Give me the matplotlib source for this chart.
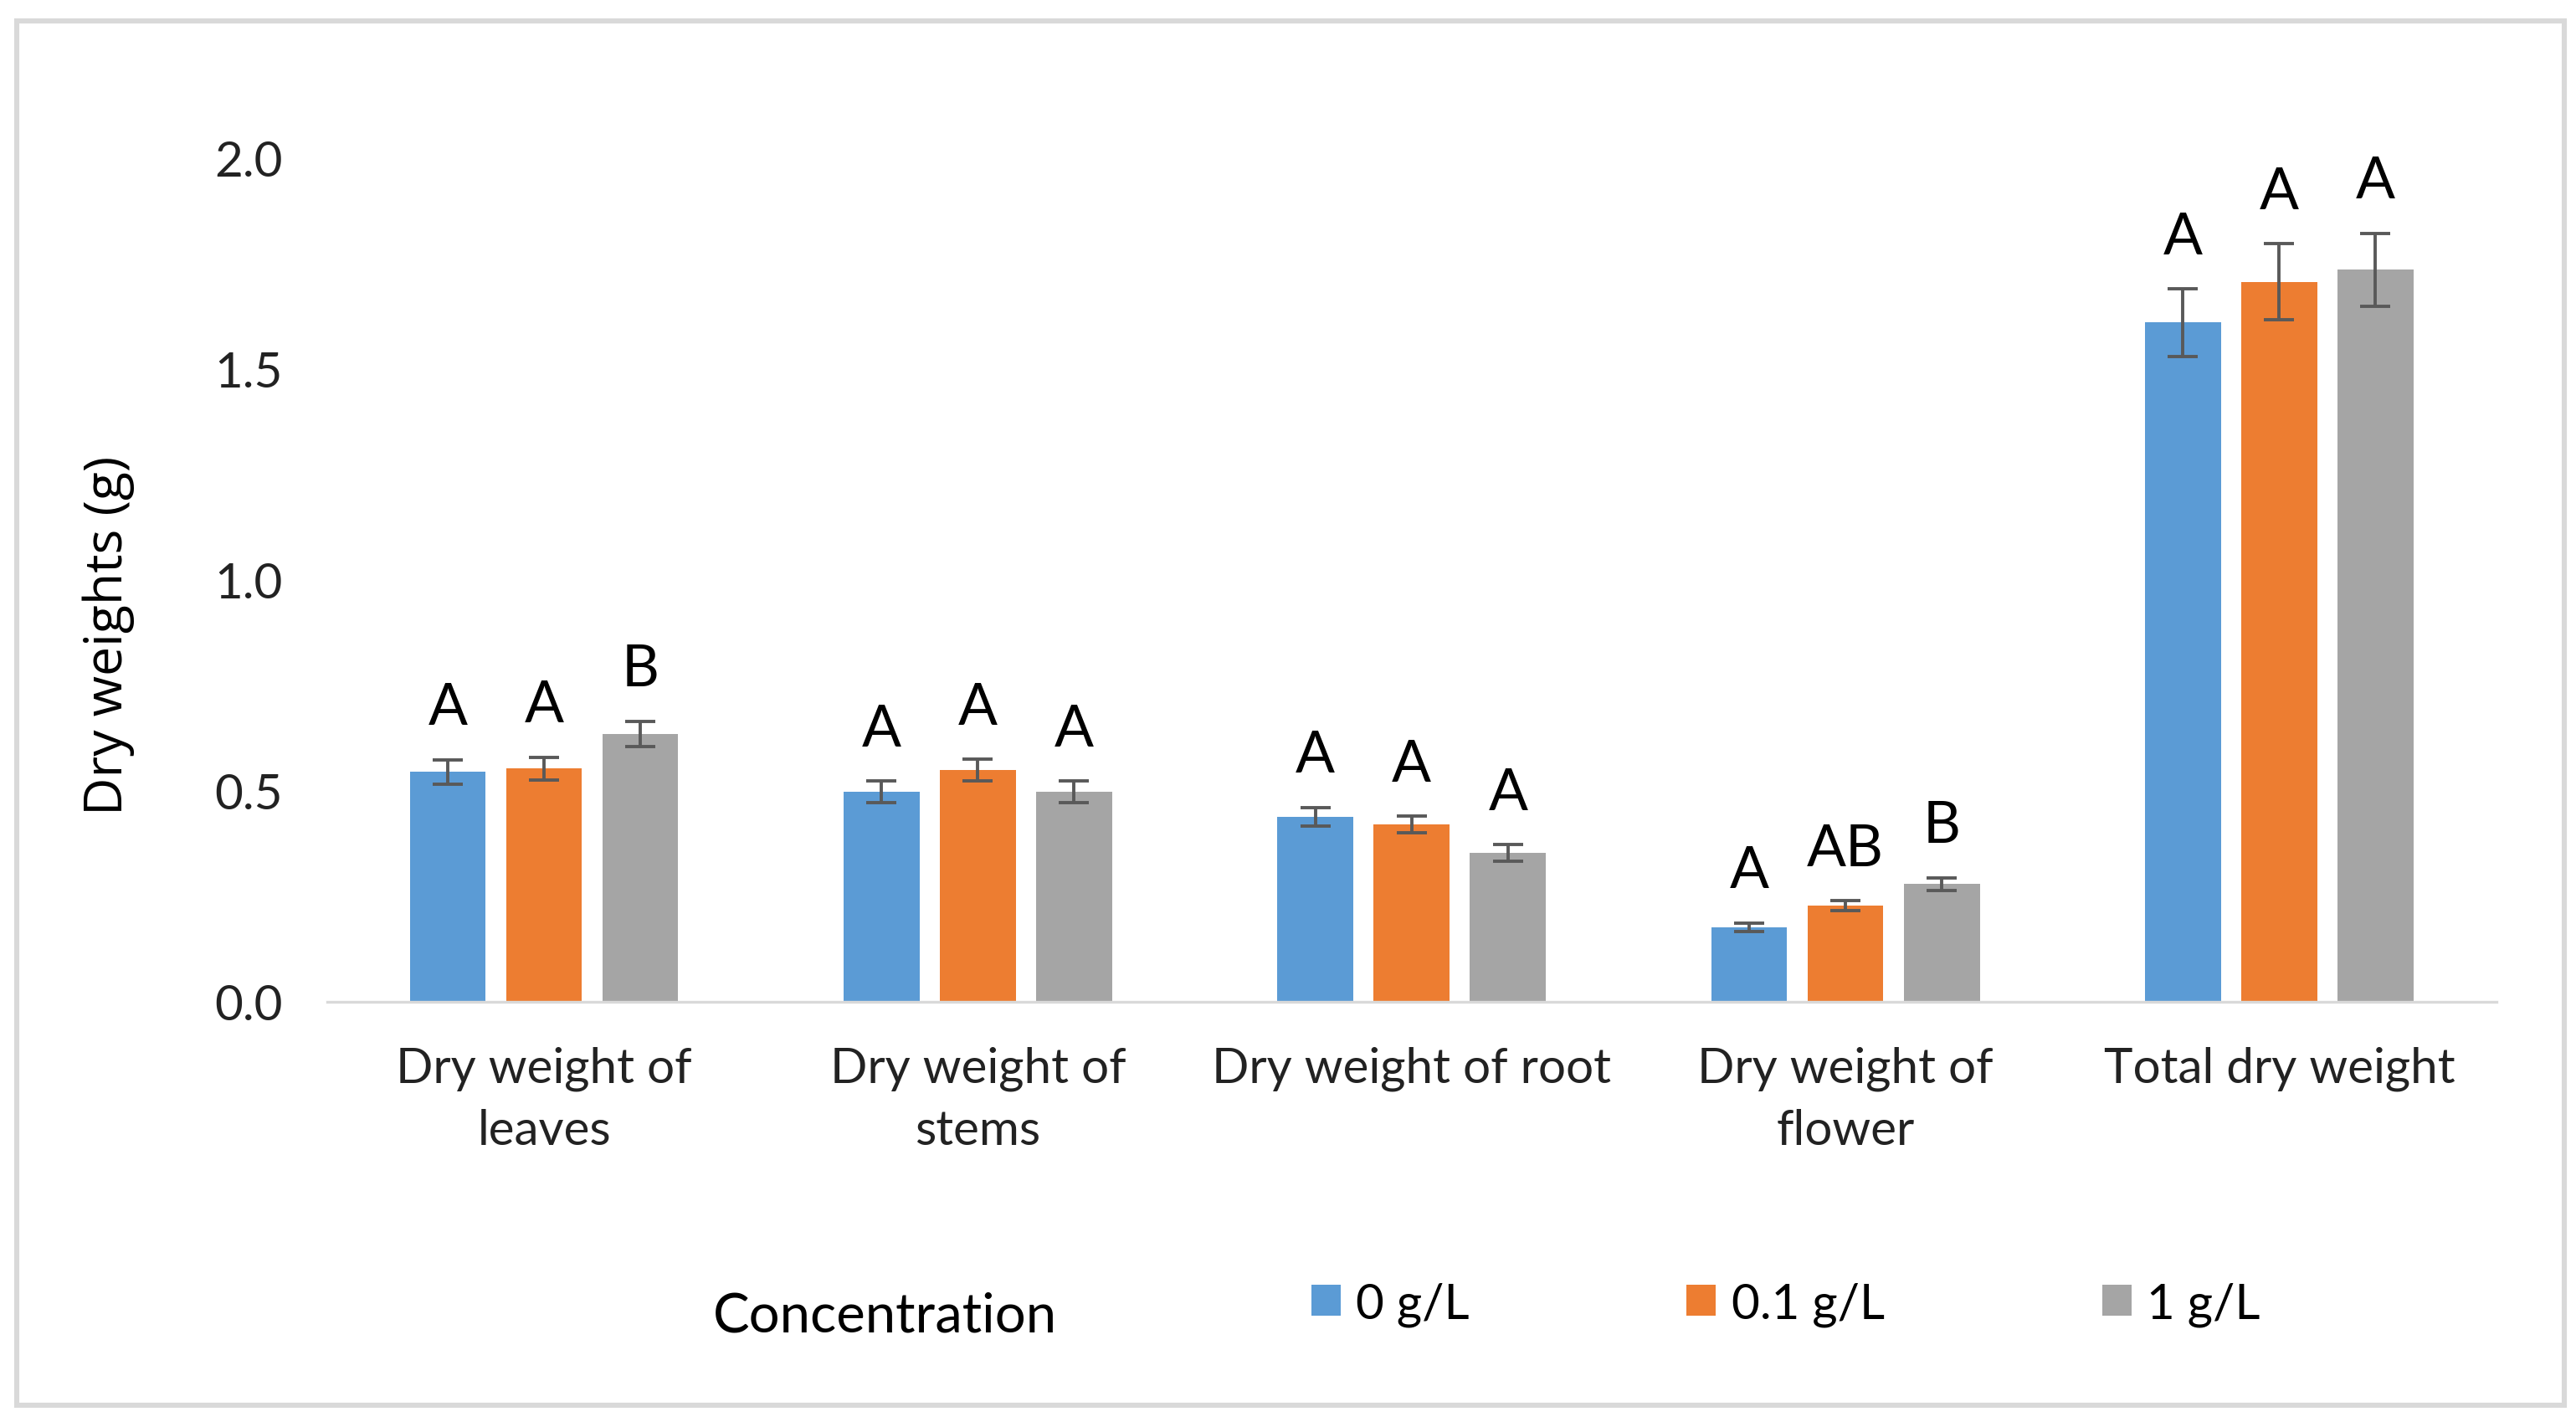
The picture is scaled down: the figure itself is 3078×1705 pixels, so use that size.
import matplotlib
matplotlib.use("Agg")
import matplotlib.pyplot as plt
from matplotlib.patches import Rectangle, Patch
import numpy as np

categories = ["Dry weight of\nleaves", "Dry weight of\nstems", "Dry weight of root",
              "Dry weight of\nflower", "Total dry weight"]
series_names = ["0 g/L", "0.1 g/L", "1 g/L"]
vals_0 = [0.544, 0.497, 0.438, 0.176, 1.609]
vals_01 = [0.552, 0.548, 0.419, 0.227, 1.706]
vals_1 = [0.634, 0.497, 0.352, 0.278, 1.734]
err_0 = [0.029, 0.025, 0.022, 0.010, 0.080]
err_01 = [0.027, 0.026, 0.020, 0.012, 0.090]
err_1 = [0.030, 0.025, 0.020, 0.015, 0.087]
letters_0 = ["A", "A", "A", "A", "A"]
letters_01 = ["A", "A", "A", "AB", "A"]
letters_1 = ["B", "A", "A", "B", "A"]
yticks = [0.0, 0.5, 1.0, 1.5, 2.0]
ytick_labels = ["0.0", "0.5", "1.0", "1.5", "2.0"]

colors = ["#5B9BD5", "#ED7D31", "#A5A5A5"]
font = ["Lato", "DejaVu Sans"]
plt.rcParams["font.family"] = font

fig = plt.figure(figsize=(15.39, 8.53), dpi=200)
ax = fig.add_axes([0.127, 0.298, 0.842, 0.591])

x = np.arange(len(categories))
step = 0.222
width = 0.175
all_vals = [vals_0, vals_01, vals_1]
all_errs = [err_0, err_01, err_1]
all_letters = [letters_0, letters_01, letters_1]
for i in range(3):
    xs = x + (i - 1) * step
    ax.bar(xs, all_vals[i], width=width, color=colors[i], label=series_names[i], zorder=2)
    ax.errorbar(xs, all_vals[i], yerr=all_errs[i], fmt="none", ecolor="#595959",
                elinewidth=1.4, capsize=6.5, capthick=1.4, zorder=3)
    for xi, v, e, t in zip(xs, all_vals[i], all_errs[i], all_letters[i]):
        ax.annotate(t, (xi, v + e), xytext=(0, 11), textcoords="offset points",
                    ha="center", va="bottom", fontsize=25, color="black")

ax.set_xlim(-0.5, len(categories) - 0.5)
ax.set_ylim(0, 2.0)
ax.set_yticks(yticks)
ax.set_yticklabels(ytick_labels)
ax.set_xticks(x)
ax.set_xticklabels(categories, linespacing=1.5, va="top")
ax.tick_params(axis="y", length=0, pad=19, labelsize=21, labelcolor="#222222")
ax.tick_params(axis="x", length=0, pad=19, labelsize=21, labelcolor="#222222")
for s in ["top", "right", "left"]:
    ax.spines[s].set_visible(False)
ax.spines["bottom"].set_color("#D9D9D9")
ax.spines["bottom"].set_linewidth(1.2)

fig.text(0.042, 0.555, "Dry weights (g)", rotation=90, ha="center", va="center",
         fontsize=22.5, family=["Open Sans", "DejaVu Sans"], color="black")

fig.text(0.3435, 0.078, "Concentration", ha="center", va="center", fontsize=23.5, color="black")
handles = [Patch(facecolor=c, edgecolor="none") for c in colors]
fig.legend(handles, series_names, loc="center left", bbox_to_anchor=(0.509, 0.086),
           ncol=3, frameon=False, fontsize=21, handlelength=0.6, handleheight=0.6,
           handletextpad=0.32, columnspacing=4.45, borderpad=0, borderaxespad=0)

fig.patches.append(Rectangle((0.0064, 0.015), 0.9891, 0.97, transform=fig.transFigure,
                             fill=False, edgecolor="#D9D9D9", linewidth=2.2, zorder=0))

fig.savefig("out.png", dpi=200, facecolor="white")
